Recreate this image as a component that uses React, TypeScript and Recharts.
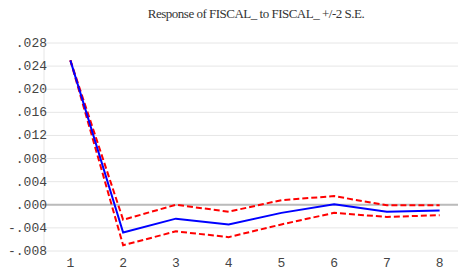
import { LineChart, Line, XAxis, YAxis, CartesianGrid, ReferenceLine } from 'recharts';

// periods after shock
const periods = [1, 2, 3, 4, 5, 6, 7, 8];
// impulse response and +/- 2 S.E. bands
const response = [0.025, -0.0048, -0.0024, -0.0034, -0.0014, 0.0001, -0.0012, -0.001];
const upperBand = [0.025, -0.0026, 0.0, -0.0012, 0.0008, 0.0015, -0.0001, -0.0001];
const lowerBand = [0.025, -0.007, -0.0046, -0.0056, -0.0034, -0.0014, -0.0021, -0.0018];

const yTicks = [-0.008, -0.004, 0, 0.004, 0.008, 0.012, 0.016, 0.02, 0.024, 0.028];
const gridTicks = [1.5, 2.5, 3.5, 4.5, 5.5, 6.5, 7.5];

const data = periods.map((p, i) => ({
    period: p,
    response: response[i],
    upper: upperBand[i],
    lower: lowerBand[i],
}));

const fmt = (v: number) => {
    if (v === 0) return '.000';
    const s = Math.abs(v).toFixed(3).replace(/^0/, '');
    return v < 0 ? '-' + s : s;
};

const YTick = ({ x, y, payload }: any) => (
    <text x={x + 11} y={y} dy={4} textAnchor="end" fontFamily="Liberation Mono" fontSize={13} fill="#444">
        {fmt(payload.value)}
    </text>
);

const XTick = ({ x, y, payload }: any) => (
    <text x={x} y={y} dy={8} textAnchor="middle" fontFamily="Liberation Mono" fontSize={13} fill="#444">
        {payload.value}
    </text>
);

export default function App() {
    return (
        <div style={{ position: 'absolute', left: 0, top: 0, width: 458, height: 274, overflow: 'hidden', background: '#fff' }}>
            <div
                style={{
                    position: 'absolute',
                    top: 6,
                    left: 0,
                    width: 512,
                    textAlign: 'center',
                    fontFamily: '"Liberation Serif", serif',
                    fontSize: 13,
                    color: '#333',
                    letterSpacing: -0.5,
                }}
            >
                Response of FISCAL_ to FISCAL_ +/-2 S.E.
            </div>
            <LineChart width={466} height={274} data={data} margin={{ top: 43, right: 0, bottom: 1, left: 0 }}>
                <CartesianGrid xAxisId="grid" stroke="#e6e6e6" strokeWidth={1} />
                <XAxis
                    dataKey="period"
                    type="number"
                    domain={[0.5, 8.5]}
                    ticks={periods}
                    tick={<XTick />}
                    axisLine={false}
                    tickLine={false}
                    height={22}
                    interval={0}
                />
                <XAxis
                    xAxisId="grid"
                    dataKey="period"
                    type="number"
                    domain={[0.5, 8.5]}
                    ticks={gridTicks}
                    tick={false}
                    axisLine={false}
                    tickLine={false}
                    height={0}
                    interval={0}
                />
                <YAxis
                    type="number"
                    domain={[-0.008, 0.028]}
                    ticks={yTicks}
                    tick={<YTick />}
                    axisLine={false}
                    tickLine={false}
                    width={44}
                    interval={0}
                />
                <ReferenceLine y={0} stroke="#bbbbbb" strokeWidth={2} />
                <Line dataKey="upper" stroke="#ff0000" strokeWidth={2} strokeDasharray="6 3" dot={false} isAnimationActive={false} />
                <Line dataKey="lower" stroke="#ff0000" strokeWidth={2} strokeDasharray="6 3" dot={false} isAnimationActive={false} />
                <Line dataKey="response" stroke="#0000ff" strokeWidth={2} dot={false} isAnimationActive={false} />
            </LineChart>
        </div>
    );
}
